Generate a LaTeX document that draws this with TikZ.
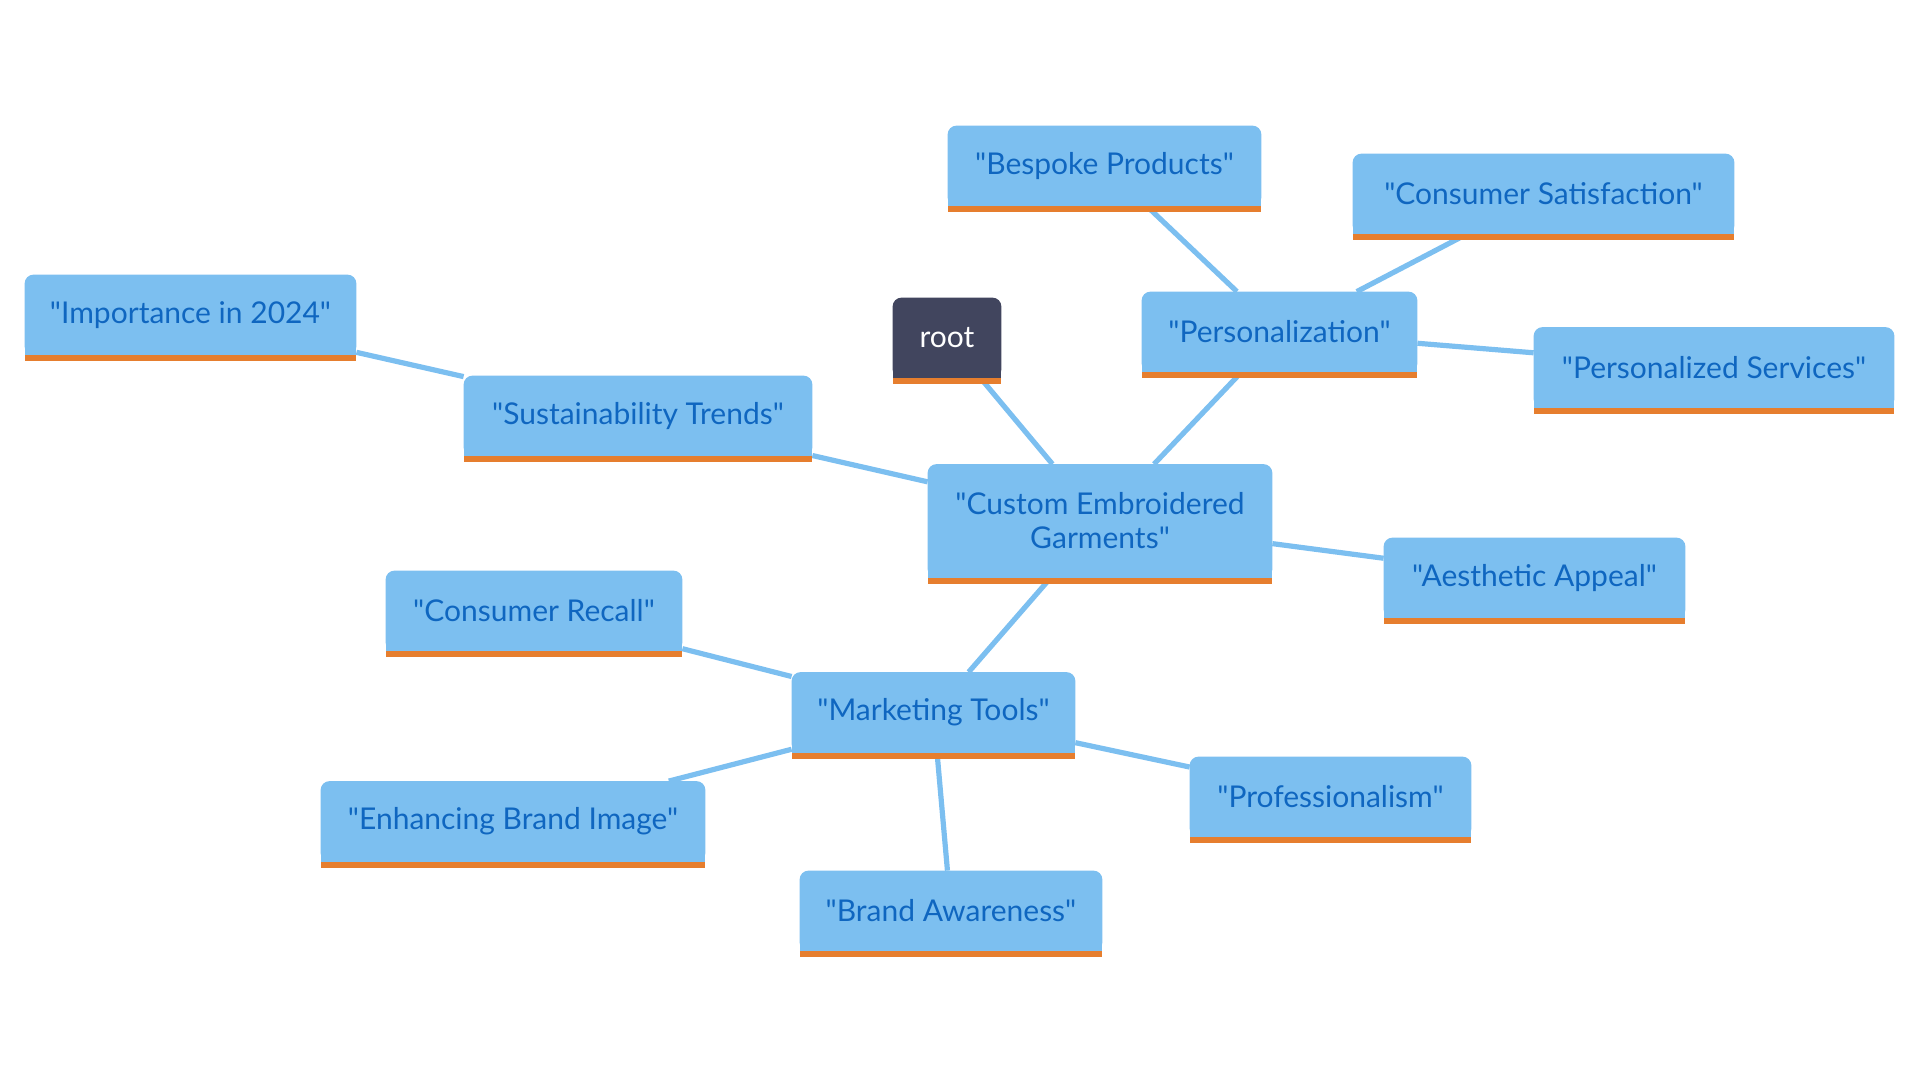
\documentclass[tikz,border=0pt]{standalone}
\usepackage{fontspec}
\setmainfont{Lato}[Ligatures=TeXOff]
\usetikzlibrary{backgrounds}
\definecolor{boxblue}{HTML}{7CBFF0}
\definecolor{barorange}{HTML}{E67E2E}
\definecolor{txtblue}{HTML}{0F66C0}
\definecolor{rootfill}{HTML}{41455E}
\tikzset{
  mm/.style={inner sep=0pt, align=center, text=txtblue, font=\fontsize{15}{17}\selectfont, minimum height=40pt},
  link/.style={draw=boxblue, line width=2.6pt},
}
\begin{document}
\begin{tikzpicture}[x=0.5pt,y=-0.5pt]
\useasboundingbox (0,0) rectangle (1920,1080);
\node[mm, minimum width=156.5pt] (bespoke) at (1104.5,166) {"Bespoke Products"};
\node[mm, minimum width=190.5pt] (satisf) at (1543.5,194) {"Consumer Satisfaction"};
\node[mm, minimum width=165.5pt] (importance) at (190.5,315) {"Importance in 2024"};
\node[mm, minimum width=54pt, text=white] (root) at (947,338) {root};
\node[mm, minimum width=137.5pt] (personal) at (1279.5,332) {"Personalization"};
\node[mm, minimum width=180pt] (services) at (1714,367.5) {"Personalized Services"};
\node[mm, minimum width=174pt] (sustain) at (638,416) {"Sustainability Trends"};
\node[mm, minimum width=172pt, minimum height=56.5pt] (custom) at (1100,521) {"Custom Embroidered\\Garments"};
\node[mm, minimum width=150.5pt] (aesthetic) at (1534.5,578) {"Aesthetic Appeal"};
\node[mm, minimum width=148pt] (recall) at (534,611) {"Consumer Recall"};
\node[mm, minimum width=141.5pt] (marketing) at (933.5,712.5) {"Marketing Tools"};
\node[mm, minimum width=192pt] (enhancing) at (513,821.5) {"Enhancing Brand Image"};
\node[mm, minimum width=140.5pt] (profess) at (1330.5,797) {"Professionalism"};
\node[mm, minimum width=151pt] (awareness) at (951,911) {"Brand Awareness"};
\begin{scope}[on background layer]
  \draw[link] (root) -- (custom);
  \draw[link] (custom) -- (personal);
  \draw[link] (custom) -- (sustain);
  \draw[link] (custom) -- (aesthetic);
  \draw[link] (custom) -- (marketing);
  \draw[link] (personal) -- (bespoke);
  \draw[link] (personal) -- (satisf);
  \draw[link] (personal) -- (services);
  \draw[link] (sustain) -- (importance);
  \draw[link] (marketing) -- (recall);
  \draw[link] (marketing) -- (enhancing);
  \draw[link] (marketing) -- (profess);
  \draw[link] (marketing) -- (awareness);
  \foreach \n/\c in {bespoke/boxblue,satisf/boxblue,importance/boxblue,root/rootfill,personal/boxblue,services/boxblue,sustain/boxblue,custom/boxblue,aesthetic/boxblue,recall/boxblue,marketing/boxblue,enhancing/boxblue,profess/boxblue,awareness/boxblue}{
    \fill[\c, rounded corners=4.5pt] (\n.south west) rectangle (\n.north east);
    \fill[\c] (\n.south west) rectangle ([yshift=8pt]\n.south east);
    \fill[barorange] (\n.south west) rectangle ([yshift=-3pt]\n.south east);
  }
\end{scope}
\end{tikzpicture}
\end{document}
